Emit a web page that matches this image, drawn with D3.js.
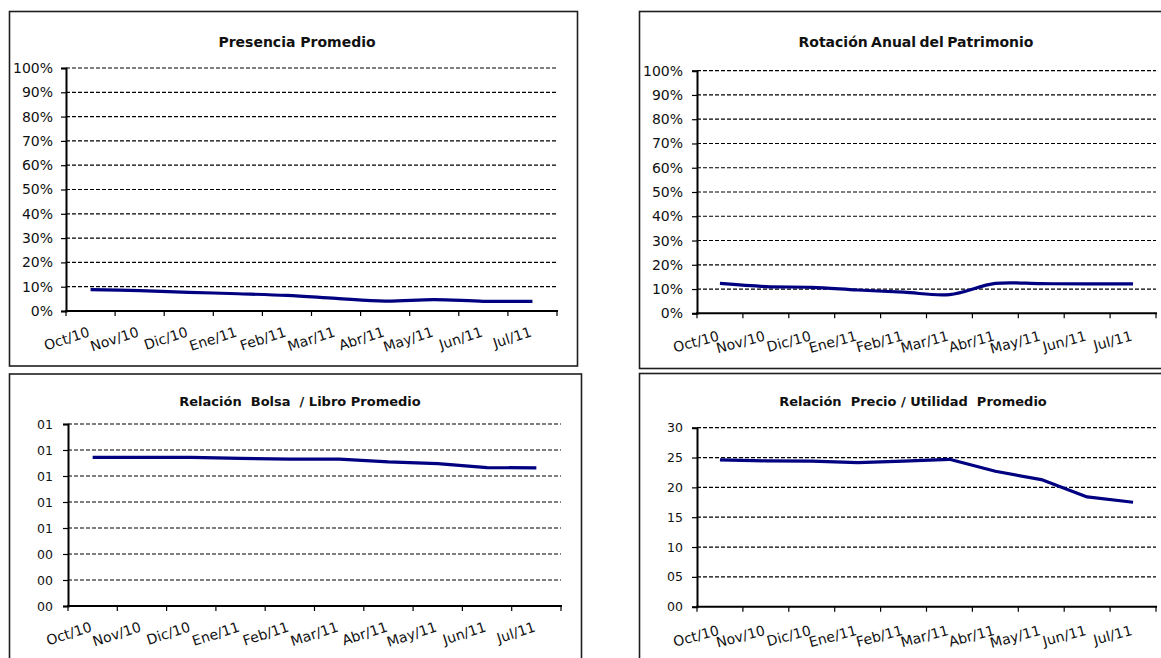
<!DOCTYPE html>
<html>
<head>
<meta charset="utf-8">
<script src="https://cdnjs.cloudflare.com/ajax/libs/d3/7.8.5/d3.min.js"></script>
<style>
  html, body { margin: 0; padding: 0; background: #fff; }
  svg { display: block; }
  text { fill: #111; }
</style>
</head>
<body>
<svg id="chart" width="1161" height="658"></svg>
<script>
// Monthly categories shared by the four panels
const months = ["Oct/10", "Nov/10", "Dic/10", "Ene/11", "Feb/11", "Mar/11", "Abr/11", "May/11", "Jun/11", "Jul/11"];

// Series values
const presencia = [0.088, 0.084, 0.077, 0.071, 0.064, 0.052, 0.041, 0.047, 0.040, 0.040];
const rotacion = [0.123, 0.110, 0.107, 0.096, 0.087, 0.077, 0.123, 0.122, 0.121, 0.121];
const bolsaLibro = [1.144, 1.144, 1.144, 1.135, 1.130, 1.130, 1.108, 1.095, 1.065, 1.062];
const precioUtilidad = [24.6, 24.45, 24.4, 24.15, 24.4, 24.7, 22.7, 21.3, 18.4, 17.5];

// Axis tick values
const pctTicks = [0, 0.1, 0.2, 0.3, 0.4, 0.5, 0.6, 0.7, 0.8, 0.9, 1.0];
const ratioTicks = [0, 0.2, 0.4, 0.6, 0.8, 1.0, 1.2, 1.4];
const peTicks = [0, 5, 10, 15, 20, 25, 30];

const svg = d3.select("#chart");
const FONT = "'DejaVu Sans', Verdana, sans-serif";

// Panel layout: frame, plot area and text placement for each chart
const panels = [
  {
    title: "Presencia Promedio", values: presencia, ticks: pctTicks, fmt: d3.format(".0%"),
    curve: d3.curveCatmullRom,
    box: { x: 9.5, y: 11.5, w: 568, h: 354.5 },
    plot: { left: 66, right: 557, top: 68, bottom: 311 },
    titlePos: { x: 297, y: 42, size: 14 },
    yLab: { x: 53, size: 14 },
    xLab: { dy: 25, rot: -18, size: 14 }
  },
  {
    title: "Rotación Anual del Patrimonio", values: rotacion, ticks: pctTicks, fmt: d3.format(".0%"),
    curve: d3.curveCatmullRom, wordSpacing: -1.5,
    box: { x: 639.5, y: 11.5, w: 600, h: 357 },
    plot: { left: 697, right: 1156, top: 70.7, bottom: 313.3 },
    titlePos: { x: 916, y: 42, size: 14 },
    yLab: { x: 683, size: 14 },
    xLab: { dy: 27, rot: -15, size: 14 }
  },
  {
    title: "Relación  Bolsa  / Libro Promedio", values: bolsaLibro, ticks: ratioTicks, fmt: d3.format("02d"),
    curve: d3.curveLinear,
    box: { x: 9.5, y: 374, w: 572, h: 400 },
    plot: { left: 68, right: 561, top: 424, bottom: 606 },
    titlePos: { x: 300, y: 401, size: 13 },
    yLab: { x: 53, size: 12.5 },
    xLab: { dy: 25, rot: -18, size: 14 }
  },
  {
    title: "Relación  Precio / Utilidad  Promedio", values: precioUtilidad, ticks: peTicks, fmt: d3.format("02d"),
    curve: d3.curveLinear,
    box: { x: 639.5, y: 373.5, w: 600, h: 400 },
    plot: { left: 697, right: 1156, top: 427.7, bottom: 606.7 },
    titlePos: { x: 913, y: 401, size: 13 },
    yLab: { x: 683, size: 12.5 },
    xLab: { dy: 28, rot: -15, size: 14 }
  }
];

panels.forEach(p => {
  const g = svg.append("g");
  const P = p.plot;

  // Frame
  g.append("rect")
    .attr("x", p.box.x).attr("y", p.box.y)
    .attr("width", p.box.w).attr("height", p.box.h)
    .attr("fill", "#fff").attr("stroke", "#1e1e1e").attr("stroke-width", 1.6);

  // Scales
  const x = d3.scaleBand().domain(months).range([P.left, P.right]).padding(0);
  const y = d3.scaleLinear()
    .domain([d3.min(p.ticks), d3.max(p.ticks)])
    .range([P.bottom, P.top]);
  const bw = x.bandwidth();

  // Title
  g.append("text")
    .attr("x", p.titlePos.x).attr("y", p.titlePos.y)
    .attr("text-anchor", "middle").attr("dominant-baseline", "central")
    .style("font-family", FONT).style("font-size", p.titlePos.size + "px")
    .style("font-weight", "bold").style("white-space", "pre")
    .style("word-spacing", (p.wordSpacing || 0) + "px")
    .text(p.title);

  // Dashed gridlines
  g.append("g").selectAll("line")
    .data(p.ticks.filter(t => t !== d3.min(p.ticks)))
    .join("line")
    .attr("x1", P.left).attr("x2", P.right)
    .attr("y1", d => y(d)).attr("y2", d => y(d))
    .attr("stroke", "#000").attr("stroke-width", 1.2)
    .attr("stroke-dasharray", "4,2");

  // Y axis with tick labels
  const yAxis = g.append("g")
    .attr("transform", `translate(${P.left},0)`)
    .call(d3.axisLeft(y).tickValues(p.ticks).tickFormat(p.fmt).tickSize(5));
  yAxis.select(".domain").attr("stroke", "#000").attr("stroke-width", 2);
  yAxis.selectAll(".tick line").attr("stroke", "#000").attr("stroke-width", 1.2);
  yAxis.selectAll(".tick text")
    .attr("x", p.yLab.x - P.left)
    .style("font-family", FONT).style("font-size", p.yLab.size + "px")
    .attr("fill", "#111");

  // X axis: category boundary ticks
  const bounds = months.map(m => x(m)).concat([x.range()[1]]);
  g.append("line")
    .attr("x1", P.left - 1).attr("x2", P.right + 1)
    .attr("y1", P.bottom).attr("y2", P.bottom)
    .attr("stroke", "#000").attr("stroke-width", 2);
  g.append("g").selectAll("line")
    .data(bounds).join("line")
    .attr("x1", d => d).attr("x2", d => d)
    .attr("y1", P.bottom).attr("y2", P.bottom + 5)
    .attr("stroke", "#000").attr("stroke-width", 1.2);

  // Rotated category labels
  g.append("g").selectAll("text")
    .data(months).join("text")
    .attr("transform", d => `translate(${x(d) + bw / 2},${P.bottom + p.xLab.dy}) rotate(${p.xLab.rot})`)
    .attr("text-anchor", "end")
    .style("font-family", FONT).style("font-size", p.xLab.size + "px")
    .text(d => d);

  // Series line
  const line = d3.line()
    .x((d, i) => x(months[i]) + bw / 2)
    .y(d => y(d))
    .curve(p.curve);
  g.append("path")
    .datum(p.values)
    .attr("d", line)
    .attr("fill", "none")
    .attr("stroke", "#000080")
    .attr("stroke-width", 3.2)
    .attr("stroke-linejoin", "round");
});
</script>
</body>
</html>
